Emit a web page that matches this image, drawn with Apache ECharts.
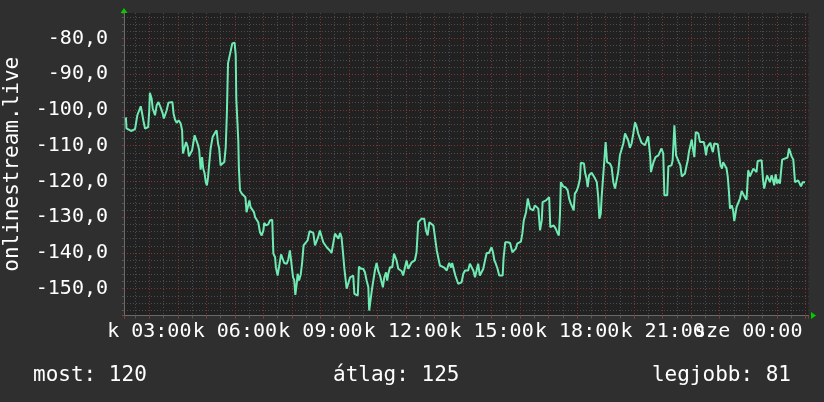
<!DOCTYPE html>
<html><head><meta charset="utf-8">
<script src="https://cdn.jsdelivr.net/npm/echarts@6/dist/echarts.min.js"></script>
<style>html,body{margin:0;padding:0;background:#2f2f2f;}#c{width:824px;height:402px;}</style>
</head><body><div id="c"></div>
<script>
// time in hours since Tuesday 00:00 (values > 24 are Wednesday)
const hours = [
2.18,2.20,2.36,2.50,2.53,2.58,2.70,2.74,2.79,2.85,2.96,3.00,3.02,3.08,3.12,3.16,3.20,3.26,3.32,3.37,
3.41,3.47,3.51,3.56,3.61,3.67,3.73,3.81,3.85,3.90,3.96,4.03,4.10,4.15,4.18,4.25,4.29,4.35,4.39,4.45,
4.50,4.54,4.59,4.66,4.71,4.75,4.80,4.85,4.89,4.94,4.98,5.02,5.06,5.09,5.15,5.22,5.29,5.36,5.41,5.45,
5.50,5.57,5.63,5.68,5.72,5.76,5.80,5.86,5.91,5.99,6.03,6.05,6.08,6.12,6.14,6.18,6.24,6.30,6.37,6.41,
6.47,6.51,6.55,6.60,6.67,6.71,
6.82,6.88,6.94,7.00,7.03,7.09,7.17,7.23,7.31,7.35,7.41,7.44,7.50,7.57,7.62,7.68,7.73,7.82,7.87,7.93,
7.99,8.04,8.08,8.12,8.17,8.20,8.25,8.31,8.36,8.41,8.48,8.55,8.62,8.69,8.75,8.81,8.87,8.92,8.98,9.04,
9.10,9.16,9.22,9.28,9.33,9.39,9.46,9.51,9.57,9.63,9.69,9.74,9.79,9.84,9.89,9.92,9.98,10.04,10.10,10.15,
10.19,10.25,10.31,10.35,10.42,10.50,10.56,10.62,10.68,10.71,10.76,10.81,10.85,10.91,10.97,11.03,11.09,11.15,11.19,11.24,
11.30,11.34,11.38,11.44,11.52,11.58,
11.67,11.73,11.79,11.85,11.90,11.96,12.02,12.08,12.14,12.20,12.26,12.31,12.37,12.43,12.49,12.55,12.64,12.70,12.76,12.82,
12.88,12.96,13.02,13.08,13.13,13.19,13.25,13.34,13.43,13.48,13.52,13.58,13.62,13.69,13.73,13.78,13.83,13.89,13.95,14.01,
14.07,14.13,14.18,14.24,14.30,14.36,14.42,14.48,14.53,14.59,14.65,14.71,14.77,14.83,14.91,14.98,15.00,15.05,15.10,15.15,
15.21,15.27,15.39,15.42,15.48,15.57,15.65,15.71,15.73,15.80,15.85,15.90,15.96,16.03,16.08,16.13,16.17,16.21,16.27,16.31,
16.35,16.41,16.46,16.52,
16.58,16.64,16.70,16.76,16.79,16.85,16.91,16.97,17.02,17.06,17.13,17.18,17.25,17.30,17.36,17.40,17.43,17.51,17.60,17.67,
17.72,17.78,17.83,17.88,17.92,17.98,18.04,18.10,18.13,18.18,18.24,18.28,18.33,18.37,18.42,18.46,18.51,18.57,18.63,18.69,
18.74,18.78,18.83,18.86,18.92,18.95,19.00,19.05,19.09,19.15,19.21,19.27,19.33,19.37,19.44,19.50,19.56,19.62,19.68,19.74,
19.79,19.85,19.91,19.97,20.03,20.09,20.14,20.20,20.26,20.32,20.38,20.45,20.49,20.53,20.56,20.59,20.63,20.68,20.75,20.85,
20.90,20.96,21.02,21.06,21.16,21.20,21.31,21.35,21.41,
21.47,21.53,21.57,21.62,21.67,21.72,21.78,21.84,21.88,21.92,21.97,22.02,22.06,22.11,22.16,22.20,22.25,22.31,22.44,22.48,
22.52,22.56,22.62,22.67,22.72,22.76,22.81,22.86,22.93,22.98,23.03,23.08,23.12,23.18,23.24,23.28,23.32,23.36,23.42,23.47,
23.51,23.56,23.59,23.65,23.71,23.77,23.83,23.88,23.94,24.00,24.06,24.12,24.18,24.24,24.29,24.33,24.47,24.52,24.56,24.61,
24.66,24.70,24.76,24.82,24.87,24.91,24.96,25.01,25.05,25.11,25.15,25.19,25.38,25.43,25.46,25.52,25.58,25.64,25.70,25.75,
25.81,25.85,25.91,25.99
];
const values = [
-102.1,-105.2,-105.9,-105.4,-105.4,-101.5,-99.0,-100.6,-102.9,-105.2,-104.8,-100.1,-95.2,-96.8,-99.6,-100.1,-101.5,-98.7,-97.8,-97.5,
-99.6,-101.0,-102.4,-102.1,-100.1,-98.0,-97.8,-97.8,-101.0,-102.7,-103.6,-102.9,-103.8,-105.7,-112.2,-112.4,-109.0,-110.4,-113.0,-113.2,
-111.3,-109.4,-107.1,-107.1,-109.9,-111.3,-116.7,-113.2,-116.4,-117.8,-120.2,-121.1,-118.8,-116.0,-110.8,-107.6,-106.6,-105.7,-109.4,-110.8,
-115.5,-115.0,-114.6,-110.4,-101.0,-87.0,-86.8,-83.3,-81.4,-81.2,-84.7,-96.8,-97.3,-108.5,-116.0,-122.5,-123.4,-123.9,-124.4,-128.6,
-128.6,-125.3,-127.2,-127.6,-128.6,-130.0,
-131.4,-134.2,-135.1,-133.7,-131.6,-132.3,-132.0,-130.9,-130.7,-140.2,-141.2,-144.1,-146.3,-146.3,-140.4,-140.7,-142.8,-143.0,-141.9,-139.3,
-139.5,-146.8,-147.5,-151.7,-148.6,-145.8,-147.7,-146.0,-142.6,-137.9,-137.6,-136.5,-133.9,-133.5,-134.4,-137.9,-138.4,-135.6,-133.7,-133.5,
-137.0,-137.4,-138.4,-138.8,-139.3,-140.0,-140.2,-134.6,-134.4,-136.0,-134.4,-135.6,-139.8,-144.4,-144.9,-150.0,-150.5,-146.8,-146.3,-146.3,
-151.4,-151.9,-151.9,-143.8,-144.4,-144.4,-145.4,-147.7,-149.6,-156.1,-156.6,-150.0,-150.0,-144.9,-142.8,-145.1,-146.3,-146.8,-149.6,-146.8,
-145.4,-147.7,-145.8,-144.0,-144.0,-140.2,
-142.1,-144.4,-144.9,-145.1,-146.3,-146.6,-142.1,-144.4,-144.1,-142.6,-142.6,-142.1,-139.8,-131.4,-131.4,-130.4,-130.4,-133.7,-135.1,-131.4,
-131.6,-132.3,-132.8,-139.3,-139.6,-143.5,-144.0,-144.1,-144.9,-143.5,-142.8,-144.1,-142.8,-142.8,-146.3,-146.8,-148.6,-148.6,-148.2,-145.8,
-144.9,-145.4,-144.9,-143.0,-142.6,-144.9,-146.8,-146.9,-143.0,-146.3,-146.3,-144.4,-142.1,-140.0,-140.0,-139.8,-138.4,-139.8,-142.1,-143.0,
-144.4,-146.3,-146.3,-141.6,-137.0,-137.0,-137.2,-137.6,-139.8,-139.8,-138.8,-137.4,-137.0,-136.8,-134.6,-130.9,-130.4,-128.6,-124.8,-125.3,
-127.6,-127.9,-128.1,-126.7,
-127.0,-127.6,-133.7,-130.9,-125.8,-125.3,-125.3,-124.8,-124.4,-132.8,-133.2,-132.3,-133.2,-134.2,-135.1,-129.0,-120.2,-121.4,-121.7,-122.5,
-124.8,-126.2,-126.7,-128.1,-123.4,-122.7,-121.4,-119.2,-114.8,-115.0,-115.0,-117.6,-119.2,-121.6,-118.3,-118.6,-117.6,-117.4,-119.2,-120.2,
-124.4,-130.4,-129.0,-124.4,-123.9,-114.6,-109.0,-114.6,-115.0,-115.0,-116.0,-120.2,-122.0,-122.0,-117.4,-112.7,-112.2,-109.4,-106.6,-106.3,
-108.5,-110.6,-109.4,-106.6,-103.5,-104.8,-106.6,-107.1,-109.2,-109.0,-109.9,-110.4,-107.4,-107.1,-112.7,-117.4,-117.6,-114.6,-113.2,-112.7,
-111.8,-110.8,-112.2,-123.9,-123.9,-115.8,-115.5,-114.1,-104.3,
-112.7,-113.2,-114.6,-115.5,-118.6,-118.3,-117.8,-115.5,-114.1,-111.8,-111.3,-108.3,-110.8,-113.2,-106.2,-106.2,-106.6,-109.0,-109.0,-110.4,
-112.7,-110.4,-110.4,-109.2,-110.8,-111.8,-109.4,-109.2,-109.6,-112.7,-115.5,-116.4,-114.6,-114.1,-116.4,-118.6,-122.5,-127.6,-126.7,-128.1,
-131.1,-131.1,-127.2,-127.6,-124.8,-122.7,-122.7,-124.4,-125.1,-116.9,-118.6,-118.8,-116.4,-116.4,-117.4,-114.3,-114.1,-119.7,-122.0,-122.0,
-118.3,-117.8,-120.2,-118.3,-119.7,-121.1,-118.0,-120.6,-119.5,-120.6,-120.6,-113.9,-113.3,-110.8,-110.4,-113.0,-113.9,-120.2,-120.2,-119.7,
-120.2,-121.4,-120.2,-120.2
];
const xLabelHours = [3, 6, 9, 12, 15, 18, 21, 24];
const xLabelTexts = ['k 03:00','k 06:00','k 09:00','k 12:00','k 15:00','k 18:00','k 21:00','sze 00:00'];
const yAxisTitle = 'onlinestream.live';
const legendTexts = ['most: 120', 'átlag: 125', 'legjobb: 81'];

const xMin = 2.113, xMax = 26.113, yMin = -157.48, yMax = -72.92;
const FONT = 'DejaVu Sans Mono';
const box = {left: 124, right: 15.5, top: 13, bottom: 86.5, containLabel: false, outerBoundsMode: 'none'};

const chart = echarts.init(document.getElementById('c'), null, {renderer: 'canvas'});
function xFmt(v) {
  const i = xLabelHours.findIndex(h => Math.abs(h - v) < 1e-6);
  return i >= 0 ? xLabelTexts[i] : '';
}
function yFmt(v) {
  return Math.abs(v / 10 - Math.round(v / 10)) < 1e-6 ? v.toFixed(1).replace('.', ',') : '';
}
const redLine = {color: '#7c3434', type: [1, 2], width: 1};
const grayLine = {color: '#4c4c4c', type: [1, 2], width: 1};
chart.setOption({
  backgroundColor: '#2f2f2f',
  animation: false,
  grid: [
    Object.assign({show: true, backgroundColor: '#212121', borderWidth: 0}, box),
    Object.assign({show: false}, box)
  ],
  xAxis: [
    {gridIndex: 0, type: 'value', min: xMin, max: xMax, splitNumber: 24, z: 2,
     axisLine: {show: true, lineStyle: {color: '#6a6a6a', width: 1}},
     axisTick: {show: true, length: 3, lineStyle: {color: '#8a3838'}},
     splitLine: {show: true, showMinLine: false, showMaxLine: false, lineStyle: redLine},
     axisLabel: {formatter: xFmt, color: '#ffffff', fontFamily: FONT, fontSize: 20, margin: 6, showMinLabel: true, showMaxLabel: true}},
    {gridIndex: 1, type: 'value', min: xMin, max: xMax, splitNumber: 48, z: 1,
     axisLine: {show: true, symbol: ['none', 'triangle'], symbolSize: [7, 5], symbolOffset: [0, 5],
                lineStyle: {color: '#00cc00', width: 0}},
     axisTick: {show: true, length: 3, lineStyle: {color: '#555555'}},
     splitLine: {show: true, showMinLine: false, showMaxLine: false, lineStyle: grayLine},
     axisLabel: {show: false}}
  ],
  yAxis: [
    {gridIndex: 0, type: 'value', min: yMin, max: yMax, splitNumber: 8, z: 2,
     name: yAxisTitle, nameLocation: 'middle', nameRotate: 90, nameGap: 101,
     nameTextStyle: {color: '#ffffff', fontFamily: FONT, fontSize: 21},
     axisLine: {show: true, lineStyle: {color: '#6a6a6a', width: 1}},
     axisTick: {show: true, length: 2, lineStyle: {color: '#8a3838'}},
     splitLine: {show: true, showMinLine: false, showMaxLine: false, lineStyle: redLine},
     axisLabel: {formatter: yFmt, color: '#ffffff', fontFamily: FONT, fontSize: 20, margin: 16}},
    {gridIndex: 1, type: 'value', min: yMin, max: yMax, splitNumber: 42, z: 1,
     axisLine: {show: true, symbol: ['none', 'triangle'], symbolSize: [7, 5], symbolOffset: [0, 2.5],
                lineStyle: {color: '#00cc00', width: 0}},
     axisTick: {show: true, length: 2, lineStyle: {color: '#555555'}},
     splitLine: {show: true, showMinLine: false, showMaxLine: false, lineStyle: grayLine},
     axisLabel: {show: false}}
  ],
  series: [{
    type: 'line', xAxisIndex: 0, yAxisIndex: 0, z: 5,
    data: hours.map((h, i) => [h, values[i]]),
    showSymbol: false, symbol: 'none',
    lineStyle: {color: '#6feab3', width: 2}
  }],
  graphic: [
    {type: 'text', left: 33, top: 365, style: {text: legendTexts[0], fill: '#ffffff', fontFamily: FONT, fontSize: 21}},
    {type: 'text', left: 333, top: 365, style: {text: legendTexts[1], fill: '#ffffff', fontFamily: FONT, fontSize: 21}},
    {type: 'text', right: 33, top: 365, style: {text: legendTexts[2], fill: '#ffffff', fontFamily: FONT, fontSize: 21}}
  ]
});
</script></body></html>
